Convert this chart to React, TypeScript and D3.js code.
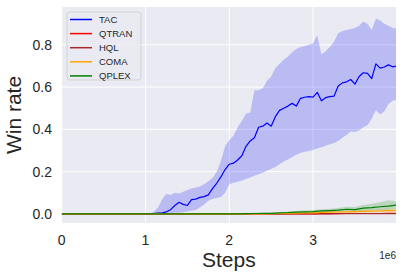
import { useEffect, useRef } from "react";
import * as d3 from "d3";

const width = 403;
const height = 279;
const plot = { left: 61.7, right: 396, top: 7, bottom: 223 };

// TAC, steps in units of 1e6
const tacSteps = [
  0, 0.5, 1.0, 1.05, 1.1, 1.15, 1.2, 1.25, 1.3, 1.35, 1.4, 1.45, 1.5, 1.55, 1.6, 1.65, 1.7, 1.75, 1.8,
  1.85, 1.9, 1.95, 2.0, 2.05, 2.1, 2.15, 2.2, 2.25, 2.3, 2.35, 2.4, 2.45, 2.5, 2.55, 2.6, 2.65, 2.7,
  2.75, 2.8, 2.85, 2.9, 2.95, 3.0, 3.05, 3.1, 3.15, 3.2, 3.25, 3.3, 3.35, 3.4, 3.45, 3.5, 3.55, 3.6,
  3.65, 3.7, 3.75, 3.8, 3.85, 3.9, 3.95, 3.99,
];
const tacMean = [
  0, 0, 0,
  0, 0.002, 0.004, 0.005, 0.01, 0.02, 0.04, 0.055, 0.045, 0.04,
  0.068, 0.07, 0.078, 0.082, 0.09, 0.12, 0.145, 0.175, 0.21, 0.235,
  0.24, 0.255, 0.275, 0.32, 0.345, 0.36, 0.41, 0.415, 0.43, 0.415,
  0.46, 0.49, 0.5, 0.51, 0.523, 0.51, 0.547, 0.552, 0.555, 0.553,
  0.575, 0.535, 0.55, 0.555, 0.557, 0.605, 0.62, 0.625, 0.636, 0.614,
  0.65, 0.668, 0.665, 0.64, 0.71, 0.69, 0.695, 0.705, 0.696,
  0.699,
];
const tacHigh = [
  0, 0, 0,
  0.002, 0.01, 0.03, 0.07, 0.095, 0.09, 0.1, 0.097, 0.105, 0.113,
  0.12, 0.125, 0.13, 0.14, 0.155, 0.17, 0.2, 0.25, 0.32, 0.35,
  0.37, 0.41, 0.44, 0.475, 0.48, 0.585, 0.585, 0.594, 0.63, 0.65,
  0.69, 0.71, 0.73, 0.745, 0.765, 0.78, 0.79, 0.795, 0.8, 0.807,
  0.845, 0.755, 0.77, 0.79, 0.815, 0.855, 0.865, 0.87, 0.875, 0.88,
  0.89, 0.91, 0.9, 0.87, 0.925, 0.915, 0.9, 0.89, 0.88,
  0.877,
];
const tacLow = [
  0, 0, 0,
  0, 0, 0, 0, 0, 0.003, 0.005, 0.006, 0.008, 0.012,
  0.015, 0.018, 0.03, 0.045, 0.062, 0.07, 0.075, 0.08, 0.1, 0.14,
  0.148, 0.152, 0.158, 0.165, 0.172, 0.18, 0.188, 0.195, 0.205, 0.213,
  0.222, 0.235, 0.248, 0.257, 0.268, 0.28, 0.288, 0.294, 0.298, 0.302,
  0.31, 0.316, 0.322, 0.33, 0.336, 0.345, 0.36, 0.375, 0.39, 0.388,
  0.395, 0.41, 0.42, 0.45, 0.49, 0.47, 0.485, 0.52, 0.535,
  0.54,
];

// baselines share a coarser grid
const baseSteps = [
  0, 1.0, 2.0, 2.1, 2.2, 2.3, 2.4, 2.5, 2.6, 2.7, 2.8, 2.9, 3.0, 3.1, 3.2, 3.3, 3.4, 3.5, 3.6, 3.7,
  3.8, 3.9, 3.99,
];
const qtranMean = [0, 0, 0, 0, 0, 0, 0, 0, 0, 0, 0, 0, 0, 0.001, 0.001, 0.001, 0.002, 0.002, 0.002, 0.002, 0.002, 0.003, 0.003];
const hqlMean = [0, 0, 0, 0, 0, 0, 0, 0, 0, 0, 0, 0, 0, 0, 0, 0.001, 0.001, 0.001, 0.001, 0.001, 0.001, 0.001, 0.001];
const comaMean = [0, 0, 0, 0, 0, 0, 0, 0.001, 0.002, 0.003, 0.004, 0.005, 0.005, 0.007, 0.008, 0.009, 0.01, 0.011, 0.012, 0.013, 0.014, 0.016, 0.017];
const comaHigh = [0, 0, 0, 0, 0, 0, 0.001, 0.002, 0.004, 0.006, 0.007, 0.008, 0.009, 0.011, 0.012, 0.014, 0.016, 0.017, 0.019, 0.021, 0.022, 0.024, 0.026];
const comaLow = [0, 0, 0, 0, 0, 0, 0, 0, 0, 0, 0, 0, 0, 0.001, 0.002, 0.002, 0.003, 0.004, 0.004, 0.005, 0.006, 0.006, 0.008];
const qplexMean = [0, 0, 0, 0, 0.001, 0.002, 0.003, 0.003, 0.005, 0.006, 0.008, 0.01, 0.011, 0.014, 0.016, 0.018, 0.022, 0.02, 0.027, 0.03, 0.034, 0.037, 0.042];
const qplexHigh = [0, 0, 0, 0.001, 0.003, 0.005, 0.006, 0.007, 0.009, 0.011, 0.014, 0.017, 0.019, 0.022, 0.025, 0.028, 0.034, 0.033, 0.042, 0.048, 0.055, 0.065, 0.06];
const qplexLow = [0, 0, 0, 0, 0, 0, 0.001, 0.001, 0.002, 0.003, 0.004, 0.005, 0.006, 0.008, 0.009, 0.01, 0.012, 0.011, 0.014, 0.016, 0.018, 0.02, 0.024];

const xTicks = [0, 1, 2, 3];
const yTicks = [0, 0.2, 0.4, 0.6, 0.8];

const series = [
  { name: "TAC", color: "blue", steps: tacSteps, mean: tacMean, low: tacLow, high: tacHigh },
  { name: "QTRAN", color: "red", steps: baseSteps, mean: qtranMean, low: null, high: null },
  { name: "HQL", color: "brown", steps: baseSteps, mean: hqlMean, low: null, high: null },
  { name: "COMA", color: "orange", steps: baseSteps, mean: comaMean, low: comaLow, high: comaHigh },
  { name: "QPLEX", color: "green", steps: baseSteps, mean: qplexMean, low: qplexLow, high: qplexHigh },
];

const font = "'Liberation Sans', Arial, sans-serif";
const textColor = "#262626";

const buildGraph = (ref: SVGSVGElement) => {
  const svg = d3.select(ref);
  svg.selectAll("*").remove();

  const x = d3.scaleLinear().domain([0, 3.99]).range([plot.left, plot.right]);
  const y = d3.scaleLinear().domain([-0.043, 0.979]).range([plot.bottom, plot.top]);

  svg
    .append("rect")
    .attr("x", plot.left)
    .attr("y", plot.top)
    .attr("width", plot.right - plot.left)
    .attr("height", plot.bottom - plot.top)
    .attr("fill", "#eaeaf2");

  const grid = svg.append("g").attr("stroke", "white").attr("stroke-width", 1);
  xTicks.forEach((t) =>
    grid.append("line").attr("x1", x(t)).attr("x2", x(t)).attr("y1", plot.top).attr("y2", plot.bottom)
  );
  yTicks.forEach((t) =>
    grid.append("line").attr("x1", plot.left).attr("x2", plot.right).attr("y1", y(t)).attr("y2", y(t))
  );

  const clip = svg.append("clipPath").attr("id", "plotclip");
  clip
    .append("rect")
    .attr("x", plot.left)
    .attr("y", plot.top)
    .attr("width", plot.right - plot.left)
    .attr("height", plot.bottom - plot.top);
  const g = svg.append("g").attr("clip-path", "url(#plotclip)");

  series.forEach((s) => {
    if (!s.low || !s.high) return;
    const area = d3
      .area<number>()
      .x((d) => x(s.steps[d]))
      .y0((d) => y(s.low![d]))
      .y1((d) => y(s.high![d]));
    g.append("path")
      .attr("d", area(d3.range(s.steps.length)))
      .attr("fill", s.color)
      .attr("fill-opacity", 0.2);
  });

  series.forEach((s) => {
    const line = d3
      .line<number>()
      .x((d) => x(s.steps[d]))
      .y((d) => y(s.mean[d]));
    g.append("path")
      .attr("d", line(d3.range(s.steps.length)))
      .attr("fill", "none")
      .attr("stroke", s.color)
      .attr("stroke-width", 1.2)
      .attr("stroke-linejoin", "round");
  });

  const labels = svg.append("g").attr("font-family", font).attr("fill", textColor);
  xTicks.forEach((t) =>
    labels.append("text").attr("x", x(t)).attr("y", 245).attr("text-anchor", "middle").attr("font-size", 14).text(`${t}`)
  );
  yTicks.forEach((t) =>
    labels
      .append("text")
      .attr("x", 52)
      .attr("y", y(t))
      .attr("dy", "0.36em")
      .attr("text-anchor", "end")
      .attr("font-size", 14)
      .text(t.toFixed(1))
  );
  labels.append("text").attr("x", 396).attr("y", 259).attr("text-anchor", "end").attr("font-size", 10).text("1e6");
  labels
    .append("text")
    .attr("x", (plot.left + plot.right) / 2)
    .attr("y", 267)
    .attr("text-anchor", "middle")
    .attr("font-size", 21)
    .text("Steps");
  labels
    .append("text")
    .attr("transform", `translate(21 ${(plot.top + plot.bottom) / 2}) rotate(-90)`)
    .attr("text-anchor", "middle")
    .attr("font-size", 21)
    .text("Win rate");

  // legend
  const legend = svg.append("g").attr("transform", "translate(67 12)");
  legend
    .append("rect")
    .attr("width", 74)
    .attr("height", 68)
    .attr("rx", 3)
    .attr("fill", "#eaeaf2")
    .attr("fill-opacity", 0.8)
    .attr("stroke", "#cccccc")
    .attr("stroke-opacity", 0.8);
  series.forEach((s, i) => {
    const ly = 7.5 + i * 14.1;
    legend.append("line").attr("x1", 3).attr("x2", 25).attr("y1", ly).attr("y2", ly).attr("stroke", s.color).attr("stroke-width", 1.5);
    legend
      .append("text")
      .attr("x", 32)
      .attr("y", ly)
      .attr("dy", "0.36em")
      .attr("font-family", font)
      .attr("font-size", 9.5)
      .attr("fill", textColor)
      .text(s.name);
  });
};

export default function App() {
  const ref = useRef<SVGSVGElement>(null);
  useEffect(() => {
    if (ref.current) buildGraph(ref.current);
  }, []);
  return (
    <svg
      ref={ref}
      width={width}
      height={height}
      style={{ position: "absolute", left: 0, top: 0, background: "white" }}
    />
  );
}
